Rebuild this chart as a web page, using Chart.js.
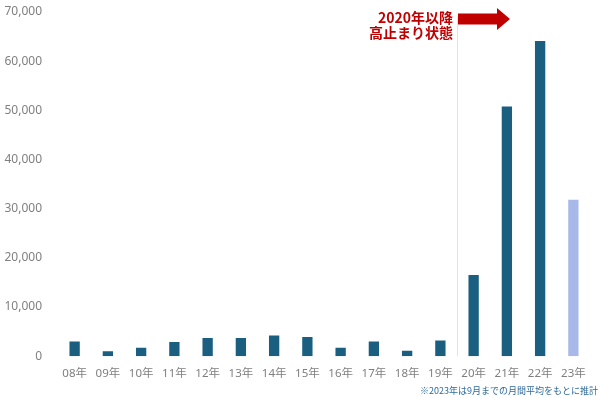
<!DOCTYPE html>
<html>
<head>
<meta charset="utf-8">
<script src="https://cdn.jsdelivr.net/npm/chart.js@4.4.0/dist/chart.umd.min.js"></script>
<style>
  html, body { margin: 0; padding: 0; background: #fff; }
  .wrap { width: 600px; height: 398px; position: relative; }
</style>
</head>
<body>
<div class="wrap"><canvas id="c"></canvas></div>
<script>
// ===== 年別件数 =====
const YEARS = ["08年", "09年", "10年", "11年", "12年", "13年", "14年", "15年",
  "16年", "17年", "18年", "19年", "20年", "21年", "22年", "23年"];
const COUNTS = [3000, 1000, 1700, 2900, 3700, 3700, 4200, 3900,
  1700, 3000, 1100, 3200, 16500, 50800, 64100, 31800];
const Y_TICKS = [0, 10000, 20000, 30000, 40000, 50000, 60000, 70000];
const NOTE_LINES = ["2020年以降", "高止まり状態"];
const FOOTNOTE = "※2023年は9月までの月間平均をもとに推計";

const DARK = "#1a5f80", LIGHT = "#a8b8e8", TICK = "#7f7f7f", RED = "#c00000";
const FONT = "'Noto Sans', 'Noto Sans CJK JP', sans-serif";

// 区切り線・矢印・注記
const notes = {
  id: "notes",
  afterDatasetsDraw(chart) {
    const { ctx, scales: { x, y } } = chart;
    const sepX = (x.getPixelForValue(11) + x.getPixelForValue(12)) / 2;
    ctx.save();
    ctx.strokeStyle = "#e3e3e3";
    ctx.lineWidth = 1;
    ctx.beginPath();
    ctx.moveTo(Math.round(sepX) + 0.5, y.getPixelForValue(69000));
    ctx.lineTo(Math.round(sepX) + 0.5, y.getPixelForValue(0));
    ctx.stroke();

    // arrow
    const ax = sepX + 1, ay = 19;
    ctx.fillStyle = RED;
    ctx.beginPath();
    ctx.moveTo(ax, ay - 5.5);
    ctx.lineTo(ax + 39, ay - 5.5);
    ctx.lineTo(ax + 39, ay - 11);
    ctx.lineTo(ax + 52, ay);
    ctx.lineTo(ax + 39, ay + 11);
    ctx.lineTo(ax + 39, ay + 5.5);
    ctx.lineTo(ax, ay + 5.5);
    ctx.closePath();
    ctx.fill();

    ctx.fillStyle = RED;
    ctx.font = "bold 14px 'Noto Sans CJK JP', sans-serif";
    ctx.textAlign = "right";
    ctx.textBaseline = "middle";
    ctx.fillText(NOTE_LINES[0], sepX - 4, 18);
    ctx.fillText(NOTE_LINES[1], sepX - 4, 33);

    ctx.fillStyle = "#2f6a9a";
    ctx.font = "9px 'Noto Sans CJK JP', sans-serif";
    ctx.textAlign = "right";
    ctx.fillText(FOOTNOTE, 598, 391);
    ctx.restore();
  }
};

new Chart(document.getElementById("c"), {
  type: "bar",
  data: {
    labels: YEARS,
    datasets: [{
      data: COUNTS,
      backgroundColor: COUNTS.map((v, i) => i === COUNTS.length - 1 ? LIGHT : DARK),
      barPercentage: 0.31,
      categoryPercentage: 1
    }]
  },
  options: {
    responsive: true, maintainAspectRatio: false, animation: false,
    layout: { padding: { top: 12, right: 10, bottom: 6, left: 4 } },
    plugins: { legend: { display: false }, tooltip: { enabled: false } },
    scales: {
      x: {
        grid: { display: false, drawTicks: false }, border: { display: false },
        ticks: { color: TICK, font: { family: FONT, size: 11.5 }, padding: 11, maxRotation: 0 }
      },
      y: {
        min: 0, max: 70000,
        afterBuildTicks: s => { s.ticks = Y_TICKS.map(v => ({ value: v })); },
        afterFit: s => { s.width = 54; },
        grid: { display: false, drawTicks: true, tickLength: 14 }, border: { display: false },
        ticks: {
          color: TICK, font: { family: FONT, size: 12 }, padding: 2,
          callback: v => v.toLocaleString("en-US")
        }
      }
    }
  },
  plugins: [notes]
});
</script>
</body>
</html>
